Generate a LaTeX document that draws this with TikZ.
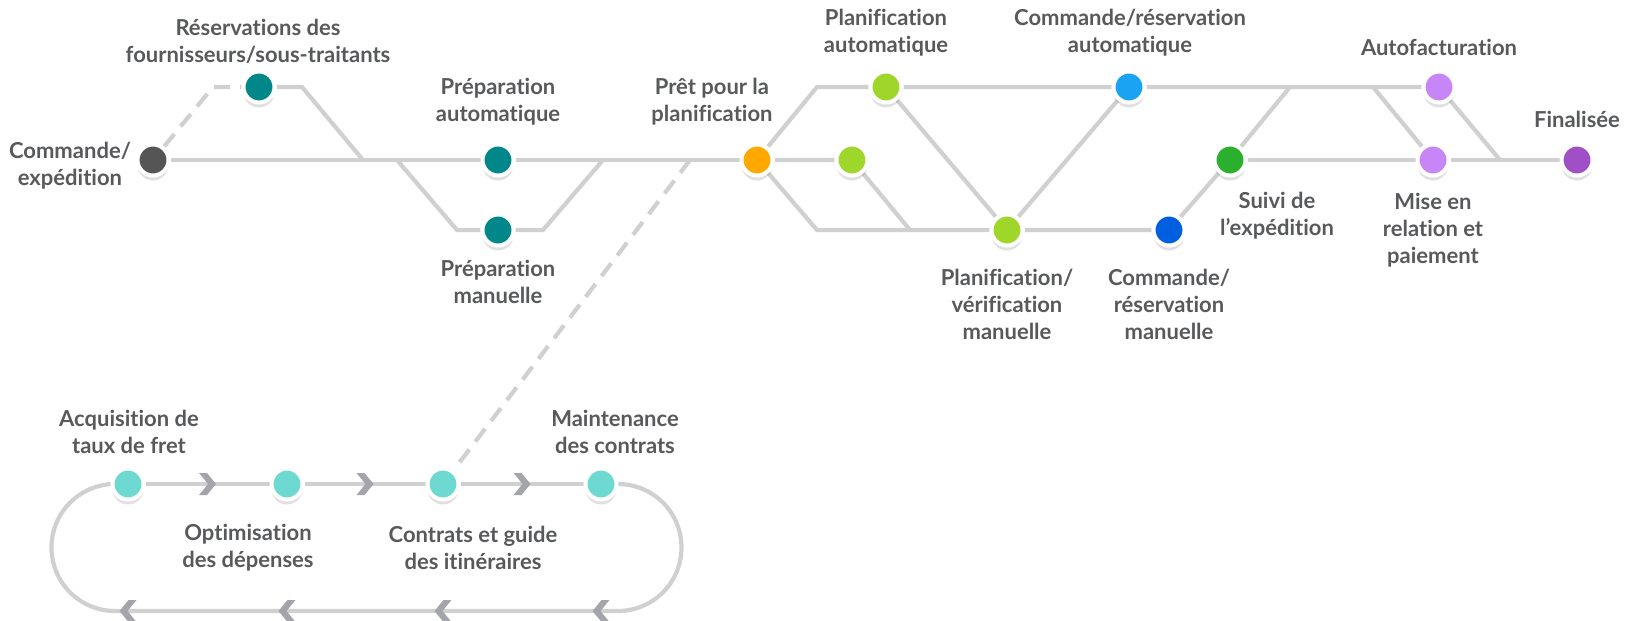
\documentclass[tikz,border=0pt]{standalone}
\usepackage{fontspec}
\setmainfont{Lato}[Ligatures=NoCommon]
\usetikzlibrary{backgrounds,shadows,calc}

\definecolor{txtgrey}{HTML}{58595B}
\definecolor{linegrey}{HTML}{D0D0D0}
\definecolor{chevgrey}{HTML}{A4A5AA}
\definecolor{startgrey}{HTML}{555555}
\definecolor{tealstop}{HTML}{00878A}
\definecolor{orangestop}{HTML}{FFA800}
\definecolor{limestop}{HTML}{9FD62A}
\definecolor{skystop}{HTML}{19A3F2}
\definecolor{bluestop}{HTML}{005FE0}
\definecolor{greenstop}{HTML}{2BB02D}
\definecolor{lilacstop}{HTML}{C786F8}
\definecolor{purplestop}{HTML}{A04FC7}
\definecolor{aquastop}{HTML}{6ED9D1}

\tikzset{
	stop/.style={circle, fill=#1, draw=white, line width=2pt, minimum size=15.5pt, inner sep=0pt,
		drop shadow={shadow xshift=0pt, shadow yshift=-2.5pt, opacity=0.12, fill=black}},
	track/.style={draw=linegrey, line width=2.1pt},
	spur/.style={track, dash pattern=on 8pt off 5pt},
	lbl/.style={text=txtgrey, font=\bfseries\fontsize{11}{13.5}\selectfont, align=center, inner sep=0pt}
}

\newcommand{\drawchevron}[2]{
	\fill[chevgrey, shift={(#1)}, xscale=#2] (-8.5,-11) -- (-0.5,-11) -- (8.5,0) -- (-0.5,11) -- (-8.5,11) -- (0.5,0) -- cycle;
}

\begin{document}
\begin{tikzpicture}[x=0.5pt,y=-0.5pt]
	\useasboundingbox (0,0) rectangle (1629,621);

	% stations
	\node[stop=startgrey] (cmd) at (153,160) {};
	\node[stop=tealstop] (resf) at (259,87) {};
	\node[stop=tealstop] (prepa) at (498,160) {};
	\node[stop=tealstop] (prepm) at (498,230) {};
	\node[stop=orangestop] (pret) at (757,160) {};
	\node[stop=limestop] (plana) at (886,87) {};
	\node[stop=limestop] (planm) at (852,160) {};
	\node[stop=limestop] (planv) at (1007,230) {};
	\node[stop=skystop] (cra) at (1129,87) {};
	\node[stop=bluestop] (crm) at (1169,230) {};
	\node[stop=greenstop] (suivi) at (1230,160) {};
	\node[stop=lilacstop] (auto) at (1439,87) {};
	\node[stop=lilacstop] (mise) at (1433,160) {};
	\node[stop=purplestop] (fin) at (1577,160) {};

	\node[stop=aquastop] (acq) at (128,484) {};
	\node[stop=aquastop] (opt) at (287,484) {};
	\node[stop=aquastop] (ctr) at (443,484) {};
	\node[stop=aquastop] (mnt) at (601,484) {};

	% labels
	\node[lbl] (cmdl) at (70,166) {Commande/\\expédition};
	\node[lbl] (resfl) at (258,41) {Réservations des\\fournisseurs/sous-traitants};
	\node[lbl] (prepal) at (498,102) {Préparation\\automatique};
	\node[lbl] (prepml) at (498,282) {Préparation\\manuelle};
	\node[lbl] (pretl) at (712,102) {Prêt pour la\\planification};
	\node[lbl] (planal) at (886,33) {Planification\\automatique};
	\node[lbl] (cral) at (1130,33) {Commande/réservation\\automatique};
	\node[lbl] (planvl) at (1007,304) {Planification/\\vérification\\manuelle};
	\node[lbl] (crml) at (1169,304) {Commande/\\réservation\\manuelle};
	\node[lbl] (suivil) at (1277,216) {Suivi de\\l’expédition};
	\node[lbl] (autol) at (1439,47) {Autofacturation};
	\node[lbl] (finl) at (1577,119) {Finalisée};
	\node[lbl] (misel) at (1433,230) {Mise en\\relation et\\paiement};
	\node[lbl] (acql) at (129,432) {Acquisition de\\taux de fret};
	\node[lbl] (optl) at (248,548) {Optimisation\\des dépenses};
	\node[lbl] (ctrl) at (473,548) {Contrats et guide\\des itinéraires};
	\node[lbl] (mntl) at (615,432) {Maintenance\\des contrats};

	\begin{scope}[on background layer]
		\coordinate (j1) at (213,87);
		\coordinate (j2) at (302,87);
		\coordinate (j3) at (363,160);
		\coordinate (j4) at (397,160);
		\coordinate (j5) at (457,230);
		\coordinate (j6) at (543,230);
		\coordinate (j7) at (603,160);
		\coordinate (j8) at (690,160);
		\coordinate (j9) at (817,87);
		\coordinate (j10) at (817,230);
		\coordinate (j11) at (910,230);
		\coordinate (j12) at (1290,87);
		\coordinate (j13) at (1373,87);
		\coordinate (j14) at (1500,160);

		\draw[spur] (cmd) -- (j1) -- (resf);
		\draw[track] (resf) -- (j2) -- (j3);
		\draw[track] (cmd) -- (prepa) -- (pret);
		\draw[track] (j4) -- (j5) -- (prepm) -- (j6) -- (j7);
		\draw[spur] (j8) -- (ctr);

		\draw[track] (pret) -- (j9) -- (plana) -- (cra) -- (auto);
		\draw[track] (pret) -- (planm) -- (j11);
		\draw[track] (pret) -- (j10) -- (j11) -- (planv) -- (crm);
		\draw[track] (plana) -- (planv) -- (cra);
		\draw[track] (crm) -- (suivi) -- (j12);
		\draw[track] (j13) -- (mise);
		\draw[track] (suivi) -- (mise) -- (fin);
		\draw[track] (auto) -- (j14);

		% loop
		\coordinate (loopR) at (618,484);
		\coordinate (loopL) at (115,611);
		\draw[track] (acq) -- (opt) -- (ctr) -- (mnt);
		\draw[track] (mnt) -- (loopR) arc[start angle=-90, end angle=90, radius=63.5]
			-- (loopL) arc[start angle=90, end angle=270, radius=63.5] -- (acq);
	\end{scope}

	\foreach \a/\b in {acq/opt,opt/ctr,ctr/mnt} {
		\coordinate (m) at ($(\a)!0.5!(\b)$);
		\drawchevron{m}{1}
	}
	\foreach \x in {128,287,443,601} {
		\coordinate (m) at (\x,611);
		\drawchevron{m}{-1}
	}
\end{tikzpicture}
\end{document}
